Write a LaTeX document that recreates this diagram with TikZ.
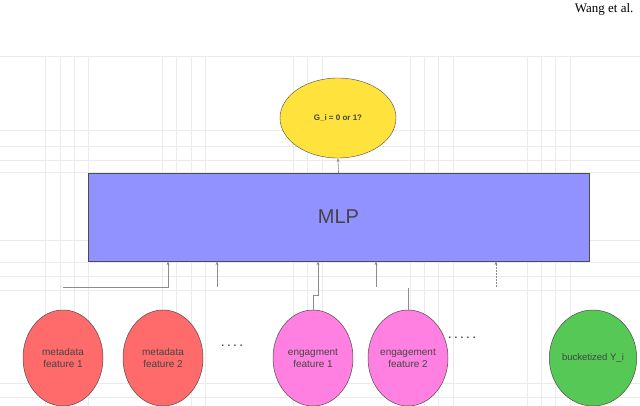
\documentclass[tikz,border=0pt]{standalone}
\usepackage{fontspec}
\setmainfont{Liberation Sans}
\newfontfamily\serifx{Liberation Serif}
\usetikzlibrary{shapes.geometric,arrows.meta}
\definecolor{gridc}{HTML}{EBEBEB}
\definecolor{mlpc}{HTML}{9191FF}
\definecolor{yel}{HTML}{FFE23C}
\definecolor{redc}{HTML}{FF6B6B}
\definecolor{pinkc}{HTML}{FF80E0}
\definecolor{grnc}{HTML}{55C855}
\definecolor{txt}{HTML}{444444}
\begin{document}
\begin{tikzpicture}[x=1pt,y=-1pt,
  circ/.style={ellipse,draw=black!70,line width=0.5pt,minimum width=80pt,minimum height=96pt,inner sep=0pt,align=center,font=\fontsize{10}{12}\selectfont,text=txt},
  conn/.style={draw=black!45,line width=0.6pt},
  arr/.style={conn,-{Stealth[length=4pt,width=3pt]}}]
\useasboundingbox (0,0) rectangle (640,406);
\fill[white] (0,0) rectangle (640,406);
% grid
\foreach \x in {45,60,74,88,162,176,191,205,293,307,322,410,424,438,453,527,541,555,570}
  \draw[gridc,line width=0.6pt] (\x,56) -- (\x,406);
\foreach \y in {56,130,146,160,172,240,262,276,290,383,397}
  \draw[gridc,line width=0.6pt] (0,\y) -- (640,\y);
\node[font=\serifx\fontsize{13}{15}\selectfont,anchor=east] (hdr) at (637,9) {Wang et al.};
\node[ellipse,draw=black!70,fill=yel,minimum width=116pt,minimum height=80pt,inner sep=0pt,font=\bfseries\fontsize{8}{10}\selectfont,text=txt] (g) at (338,118) {G\_i = 0 or 1?};
\node[draw=black!70,fill=mlpc,minimum width=501pt,minimum height=88pt,inner sep=0pt,font=\fontsize{20}{24}\selectfont,text=txt] (mlp) at (338.5,217) {MLP};
\draw[arr] (mlp.north) -- (g.south);
\node[circ,fill=redc] (m1) at (63,358) {metadata\\feature 1};
\node[circ,fill=redc] (m2) at (163,358) {metadata\\feature 2};
\node[circ,fill=pinkc] (e1) at (313,358) {engagment\\feature 1};
\node[circ,fill=pinkc] (e2) at (408,358) {engagement\\feature 2};
\node[circ,fill=grnc,font=\fontsize{9.5}{11}\selectfont] (b) at (593,358) {bucketized Y\_i};
\node[font=\bfseries,text=txt] (d1) at (232,346) {.\,\,.\,\,.\,\,.};
\node[font=\bfseries,text=txt] (d2) at (462,338) {.\,\,.\,\,.\,\,.\,\,.};
% connectors
\coordinate (c1) at (63,287);
\coordinate (c2) at (168,287);
\coordinate (c3) at (217,287);
\coordinate (c4) at (313,295);
\coordinate (c5) at (318,295);
\coordinate (c6) at (376,287);
\coordinate (c7) at (496,287);
\draw[arr] (c1) -- (c2) -- (c2 |- mlp.south);
\draw[arr] (c3) -- (c3 |- mlp.south);
\draw[arr] (e1.north) -- (c4) -- (c5) -- (c5 |- mlp.south);
\draw[conn] (e2.north) -- ++(0,-22);
\draw[arr] (c6) -- (c6 |- mlp.south);
\draw[arr,dash pattern=on 2pt off 1pt] (c7) -- (c7 |- mlp.south);
\end{tikzpicture}
\end{document}
